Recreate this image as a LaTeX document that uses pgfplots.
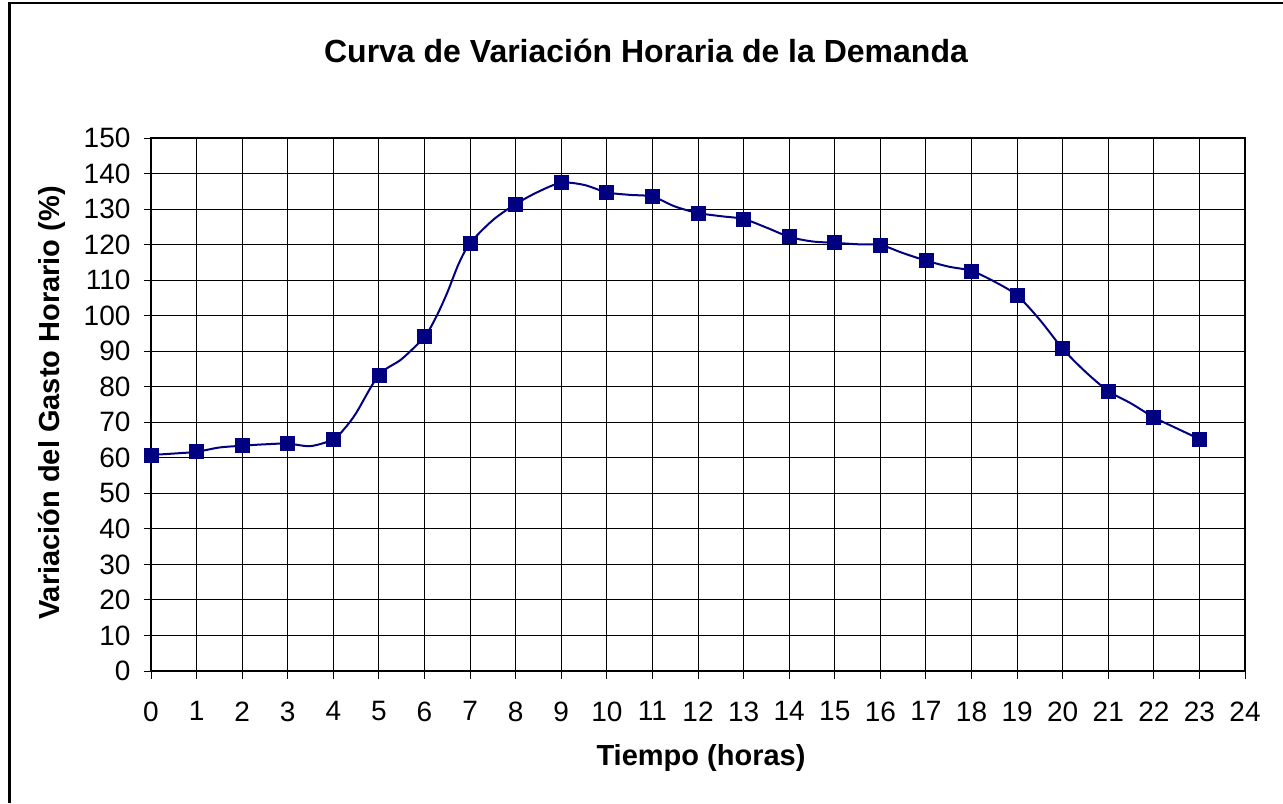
\documentclass[border=0pt]{standalone}
\usepackage{fontspec}
\setmainfont{Liberation Sans}
\usepackage{pgfplots}
\pgfplotsset{compat=1.18}
\definecolor{serie}{HTML}{000080}
\newcommand{\chartfont}{\fontsize{14}{16}\selectfont}

% curve through the half-hour readings, marks on the hours
\pgfplotstableread{
x y
0 60.8
0.5 61.2
1 61.7
1.5 62.9
2 63.4
2.5 63.8
3 64.0
3.5 63.3
4 65.2
4.25 68.3
4.5 72.6
5 83.3
5.5 87.8
6 94.1
6.25 99.5
6.5 106.5
6.75 114.6
7 120.4
7.5 126.9
8 131.4
8.5 134.9
9 137.4
9.5 136.8
10 134.7
10.5 134.0
11 133.5
11.5 130.7
12 128.9
12.5 128.0
13 127.2
13.5 124.8
14 122.2
14.5 120.9
15 120.5
15.5 120.1
16 119.9
16.5 117.6
17 115.5
17.5 113.8
18 112.6
18.5 109.6
19 105.7
19.5 98.8
20 90.7
20.5 84.2
21 78.8
21.5 75.3
22 71.4
22.5 68.3
23 65.3
}\curva

\pgfplotstableread{
x y
0 60.8
1 61.7
2 63.4
3 64.0
4 65.2
5 83.3
6 94.1
7 120.4
8 131.4
9 137.4
10 134.7
11 133.5
12 128.9
13 127.2
14 122.2
15 120.5
16 119.9
17 115.5
18 112.6
19 105.7
20 90.7
21 78.8
22 71.4
23 65.3
}\horas

\begin{document}
\begin{tikzpicture}
\useasboundingbox (0,0) rectangle (641.5pt,-401.5pt);
\draw[line width=1.2pt] (4.75pt,-401.5pt) -- (4.75pt,-1.6pt) -- (641.5pt,-1.6pt);

\node[font=\fontsize{16}{19}\selectfont\bfseries] at (323pt,-25.5pt) {Curva de Variación Horaria de la Demanda};
\node[font=\fontsize{14.5}{17}\selectfont\bfseries] at (350.5pt,-379pt) {Tiempo (horas)};
\node[font=\fontsize{14.5}{17}\selectfont\bfseries, rotate=90] at (26pt,-201.5pt) {Variación del Gasto Horario (\%)};

\begin{axis}[
  at={(75.5pt,-335.5pt)}, anchor=south west,
  scale only axis, width=547pt, height=266.5pt,
  xmin=0, xmax=24, ymin=0, ymax=150,
  xtick={0,...,24}, ytick={0,10,...,150},
  grid=major, grid style={black, line width=0.5pt},
  axis line style={black, line width=0.6pt},
  tick align=outside, tick pos=left, major tick length=3.75pt,
  tick style={black, line width=0.5pt},
  ticklabel style={font=\chartfont},
  xticklabel style={yshift=-8pt},
  yticklabel style={xshift=-3pt},
  /pgf/number format/assume math mode=true,
]
\addplot[serie, line width=1pt, smooth, tension=0.5, no marks] table {\curva};
\addplot[only marks, mark=square*, mark size=3.5pt, mark options={fill=serie, draw=serie}] table {\horas};
\end{axis}
\end{tikzpicture}
\end{document}
